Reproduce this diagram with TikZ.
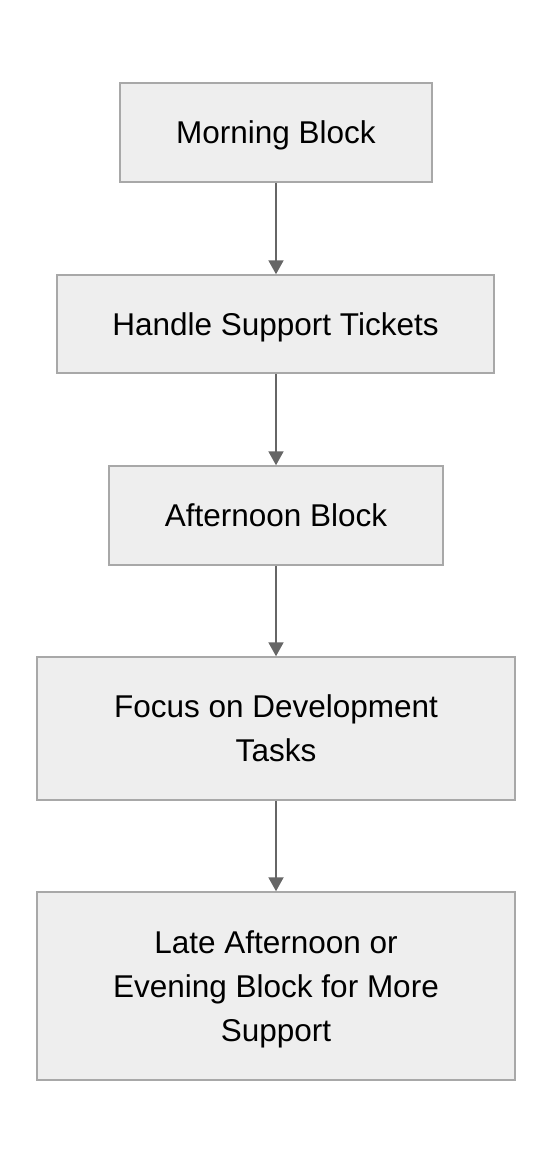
\documentclass[tikz,border=0pt]{standalone}
\usepackage{fontspec}
\setmainfont{Liberation Sans}
\usetikzlibrary{arrows.meta}
\definecolor{boxfill}{HTML}{EEEEEE}
\definecolor{boxline}{HTML}{A8A8A8}
\definecolor{arrowcol}{HTML}{666666}
\begin{document}
\begin{tikzpicture}[x=1pt,y=-1pt,
  stepbox/.style={draw=boxline,fill=boxfill,line width=1.5pt,inner sep=0pt,align=center,
    font=\fontsize{31.5}{44}\selectfont,text depth=0pt},
  flow/.style={draw=arrowcol,line width=2pt,-{Triangle[width=15pt,length=14pt]}}]
\useasboundingbox (0,0) rectangle (552,1164);
\node[stepbox,minimum width=312pt,minimum height=99pt] (a) at (276,132.5) {Morning Block};
\node[stepbox,minimum width=437pt,minimum height=98pt] (b) at (275.5,324) {Handle Support Tickets};
\node[stepbox,minimum width=334pt,minimum height=99pt] (c) at (276,515.5) {Afternoon Block};
\node[stepbox,minimum width=478pt,minimum height=143pt] (d) at (276,728.5) {Focus on Development\\Tasks};
\node[stepbox,minimum width=478pt,minimum height=188pt] (e) at (276,986) {Late Afternoon or\\Evening Block for More\\Support};
\draw[flow] (a.south -| 276,0) -- (b.north -| 276,0);
\draw[flow] (b.south -| 276,0) -- (c.north -| 276,0);
\draw[flow] (c.south) -- (d.north);
\draw[flow] (d.south) -- (e.north);
\end{tikzpicture}
\end{document}
